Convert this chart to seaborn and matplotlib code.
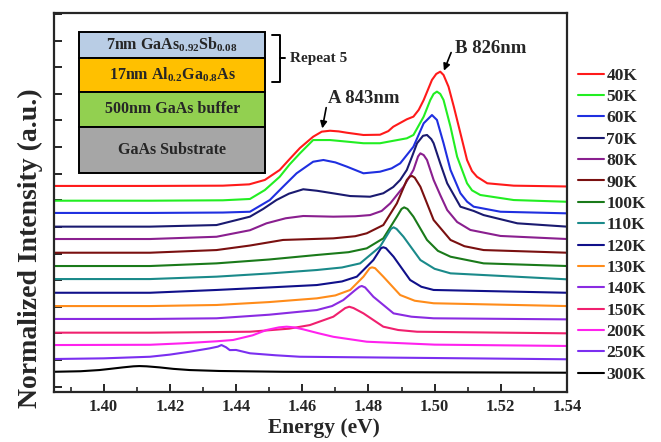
import matplotlib
matplotlib.use('Agg')
import matplotlib.pyplot as plt
import seaborn as sns
import pandas as pd
from matplotlib.patches import Rectangle
from matplotlib.lines import Line2D
from matplotlib.ticker import MultipleLocator, FormatStrFormatter

# temperatures and line colours, top trace first
temps = ['40K', '50K', '60K', '70K', '80K', '90K', '100K', '110K',
         '120K', '130K', '140K', '150K', '200K', '250K', '300K']
colors = ['#ff1a1a', '#22ee22', '#1f2fe0', '#1a1a70', '#8a1f8f', '#7a1010',
          '#1a7a1a', '#1a8a8a', '#10108a', '#ff8c1a', '#8a2be2', '#f0206e',
          '#ff22ee', '#7b2ff0', '#000000']

# stacked PL spectra (energy in eV, intensity in a.u.)
e_40K = [1.385, 1.414, 1.436, 1.444, 1.4487, 1.4532, 1.4562, 1.4593, 1.4633, 1.4659,
         1.4684, 1.471, 1.4735, 1.4785, 1.4835, 1.486, 1.4875, 1.4916, 1.4936, 1.4952,
         1.4967, 1.4992, 1.5005, 1.5017, 1.5027, 1.5042, 1.5058, 1.5078, 1.5098, 1.5113,
         1.5128, 1.5159, 1.5239, 1.54]
i_40K = [15.08, 15.08, 15.10, 15.2, 15.53, 16.28, 17.1, 17.93, 18.78, 19.16,
         19.23, 19.18, 19.08, 18.91, 18.93, 19.2, 19.53, 20.09, 20.29, 20.8,
         21.54, 23.05, 23.5, 23.67, 23.42, 22.54, 21.04, 19.04, 17.03, 16.2,
         15.77, 15.28, 15.10, 15.04]

e_50K = [1.385, 1.414, 1.436, 1.4442, 1.4487, 1.4532, 1.4562, 1.4593, 1.4633, 1.4684,
         1.4735, 1.4785, 1.4835, 1.4916, 1.4936, 1.4967, 1.4987, 1.4997, 1.5007, 1.5017,
         1.5027, 1.5048, 1.5068, 1.5098, 1.5113, 1.5138, 1.5239, 1.54]
i_50K = [13.97, 13.97, 14.0, 14.1, 14.77, 15.77, 16.7, 17.53, 18.53, 18.53,
         18.41, 18.29, 18.29, 18.66, 18.91, 20.29, 21.54, 22.0, 22.17, 22.0,
         21.54, 19.53, 17.28, 15.28, 14.75, 14.40, 14.02, 13.89]

e_60K = [1.385, 1.414, 1.436, 1.4442, 1.4502, 1.4542, 1.4583, 1.4633, 1.4664, 1.4700,
         1.4735, 1.4785, 1.4835, 1.4870, 1.4896, 1.4936, 1.4967, 1.4992, 1.5007, 1.5027,
         1.5048, 1.5078, 1.5098, 1.5118, 1.5199, 1.54]
i_60K = [13.05, 13.05, 13.08, 13.14, 14.02, 15.02, 16.03, 16.90, 17.03, 16.85,
         16.53, 16.03, 16.15, 16.4, 16.78, 18.03, 19.79, 20.41, 20.04, 18.29,
         16.28, 14.53, 13.9, 13.52, 13.14, 13.02]

e_70K = [1.385, 1.414, 1.4341, 1.4442, 1.4482, 1.4522, 1.456, 1.4603, 1.4644, 1.4700,
         1.4745, 1.4805, 1.4845, 1.4875, 1.4896, 1.4916, 1.4932, 1.4947, 1.4965, 1.4977,
         1.4990, 1.4997, 1.5017, 1.5038, 1.5078, 1.5118, 1.5148, 1.5250, 1.54]
i_70K = [12.02, 12.02, 12.14, 12.77, 13.35, 14.02, 14.5, 14.83, 14.72, 14.5,
         14.32, 14.27, 14.53, 15.0, 15.53, 16.28, 17.3, 18.29, 18.85, 18.91,
         18.6, 18.29, 16.78, 15.28, 13.52, 13.2, 12.89, 12.27, 12.02]

e_80K = [1.385, 1.414, 1.4341, 1.4442, 1.4492, 1.4550, 1.4603, 1.4694, 1.4760, 1.4805,
         1.4840, 1.4866, 1.4906, 1.4936, 1.4950, 1.4957, 1.4967, 1.4977, 1.4997, 1.5017,
         1.5038, 1.5068, 1.5108, 1.5199, 1.54]
i_80K = [11.09, 11.09, 11.26, 11.75, 12.27, 12.65, 12.82, 12.77, 12.80, 12.89,
         13.2, 13.77, 15.02, 16.28, 17.3, 17.53, 17.4, 17.03, 15.53, 14.40,
         13.27, 12.37, 11.77, 11.32, 11.09]

e_90K = [1.385, 1.414, 1.4341, 1.4442, 1.4542, 1.4694, 1.4760, 1.4795, 1.4845, 1.4886,
         1.4916, 1.4925, 1.4932, 1.4940, 1.4957, 1.4997, 1.5048, 1.5090, 1.5148, 1.54]
i_90K = [10.06, 10.06, 10.26, 10.6, 11.02, 11.14, 11.3, 11.52, 12.14, 13.77,
         15.53, 15.78, 15.83, 15.7, 15.02, 12.52, 11.02, 10.55, 10.26, 10.06]

e_100K = [1.385, 1.414, 1.4341, 1.4500, 1.4644, 1.4740, 1.4795, 1.4845, 1.4886, 1.4900,
          1.4908, 1.4918, 1.4936, 1.4977, 1.5010, 1.5048, 1.5148, 1.54]
i_100K = [9.06, 9.06, 9.26, 9.55, 9.89, 10.1, 10.39, 11.14, 12.77, 13.35,
          13.47, 13.35, 12.77, 11.02, 10.2, 9.76, 9.26, 9.06]

e_110K = [1.385, 1.414, 1.4341, 1.4500, 1.4644, 1.4720, 1.4775, 1.4835, 1.4868, 1.4876,
          1.4885, 1.4906, 1.4957, 1.5000, 1.5048, 1.54]
i_110K = [8.08, 8.08, 8.26, 8.5, 8.76, 8.95, 9.26, 10.51, 11.85, 11.97,
          11.85, 11.26, 9.51, 8.85, 8.51, 8.06]

e_120K = [1.385, 1.414, 1.4341, 1.4500, 1.4644, 1.4720, 1.4765, 1.4815, 1.4838, 1.4845,
          1.4853, 1.4876, 1.4926, 1.4960, 1.4997, 1.54]
i_120K = [7.05, 7.05, 7.26, 7.45, 7.63, 7.9, 8.26, 9.51, 10.4, 10.47,
          10.4, 9.76, 8.01, 7.5, 7.26, 7.05]

e_130K = [1.385, 1.414, 1.4341, 1.4500, 1.4644, 1.4700, 1.4745, 1.4785, 1.4804, 1.4811,
          1.4820, 1.4845, 1.4896, 1.4940, 1.4997, 1.54]
i_130K = [6.05, 6.05, 6.13, 6.35, 6.63, 6.85, 7.26, 8.26, 8.9, 8.96,
          8.9, 8.26, 6.88, 6.45, 6.26, 6.05]

e_140K = [1.385, 1.414, 1.4341, 1.4500, 1.4644, 1.4690, 1.4724, 1.4760, 1.4773, 1.4780,
          1.4790, 1.4815, 1.4876, 1.4930, 1.4997, 1.54]
i_140K = [5.08, 5.08, 5.13, 5.4, 5.75, 6.05, 6.50, 7.25, 7.5, 7.56,
          7.45, 6.75, 5.50, 5.25, 5.13, 5.05]

e_150K = [1.385, 1.414, 1.4442, 1.4560, 1.4623, 1.4694, 1.4730, 1.4742, 1.4755, 1.4785,
          1.4845, 1.4890, 1.4947, 1.54]
i_150K = [4.05, 4.05, 4.12, 4.35, 4.62, 5.25, 5.9, 6.00, 5.9, 5.50,
          4.50, 4.25, 4.12, 4.00]

e_200K = [1.385, 1.414, 1.4239, 1.4340, 1.4391, 1.4450, 1.4492, 1.4530, 1.4553, 1.4575,
          1.4603, 1.4650, 1.4694, 1.4795, 1.5000, 1.54]
i_200K = [3.12, 3.14, 3.25, 3.40, 3.50, 3.85, 4.25, 4.45, 4.50, 4.45,
          4.30, 4.0, 3.74, 3.37, 3.15, 3.05]

e_250K = [1.385, 1.400, 1.414, 1.4200, 1.4260, 1.4320, 1.4345, 1.4356, 1.4370, 1.4381,
          1.4400, 1.4442, 1.4520, 1.4593, 1.54]
i_250K = [2.07, 2.12, 2.24, 2.40, 2.62, 2.87, 3.0, 3.12, 2.95, 2.74,
          2.75, 2.50, 2.35, 2.24, 2.05]

e_300K = [1.385, 1.3930, 1.3987, 1.4020, 1.4058, 1.4090, 1.4108, 1.4130, 1.4169, 1.4210,
          1.4260, 1.4350, 1.4542, 1.54]
i_300K = [1.11, 1.15, 1.24, 1.33, 1.44, 1.52, 1.54, 1.52, 1.44, 1.33,
          1.24, 1.17, 1.11, 1.04]

energies = [e_40K, e_50K, e_60K, e_70K, e_80K, e_90K, e_100K, e_110K,
            e_120K, e_130K, e_140K, e_150K, e_200K, e_250K, e_300K]
intensities = [i_40K, i_50K, i_60K, i_70K, i_80K, i_90K, i_100K, i_110K,
               i_120K, i_130K, i_140K, i_150K, i_200K, i_250K, i_300K]

# sample structure (inset)
layers = [r'7nm GaAs$_{\mathbf{0.92}}$Sb$_{\mathbf{0.08}}$',
          r'17nm Al$_{\mathbf{0.2}}$Ga$_{\mathbf{0.8}}$As',
          '500nm GaAs buffer', 'GaAs Substrate']
layer_colors = ['#b9cde5', '#ffc000', '#92d050', '#a6a6a6']

sns.set_style('ticks')
plt.rcParams['font.family'] = ['Liberation Serif', 'DejaVu Serif']
plt.rcParams['font.weight'] = 'bold'
plt.rcParams['mathtext.fontset'] = 'custom'
plt.rcParams['mathtext.rm'] = 'Liberation Serif:bold'
plt.rcParams['mathtext.bf'] = 'Liberation Serif:bold'

fig = plt.figure(figsize=(6.61, 4.42), dpi=100)
ax = fig.add_axes([54 / 661, 1 - 392 / 442, 513 / 661, 379 / 442])

for t, c, e, i in zip(temps, colors, energies, intensities):
    df = pd.DataFrame({'Energy': e, 'Intensity': i})
    sns.lineplot(data=df, x='Energy', y='Intensity', color=c, lw=1.5,
                 label=t, ax=ax)

ax.set_xlim(1.385, 1.54)
ax.set_ylim(-0.41, 28.08)
ax.xaxis.set_major_locator(MultipleLocator(0.02))
ax.xaxis.set_minor_locator(MultipleLocator(0.01))
ax.xaxis.set_major_formatter(FormatStrFormatter('%.2f'))
ax.set_yticks(list(range(0, 29, 2)))
ax.set_yticklabels([])
ax.tick_params(which='major', direction='in', length=6, width=1.4,
               labelsize=12, pad=5, top=False, right=False)
ax.tick_params(which='minor', direction='in', length=3.5, width=1.2,
               top=False, right=False)
for s in ax.spines.values():
    s.set_linewidth(1.6)

ax.set_xlabel('Energy (eV)', fontsize=15.5, fontweight='bold')
ax.xaxis.set_label_coords(0.526, -0.0686)
ax.xaxis.label.set_va('top')
ax.set_ylabel('Normalized Intensity (a.u.)', fontsize=20, fontweight='bold')
ax.yaxis.set_label_coords(-0.022, 0.38)

ax.legend(loc='upper left', bbox_to_anchor=(1.021, 0.856), frameon=False,
          prop={'size': 12.5, 'weight': 'bold'}, handlelength=1.5,
          handletextpad=0.15, labelspacing=0.30, borderpad=0, borderaxespad=0)

# peak labels
ax.annotate('', xy=(1.4659, 19.2), xytext=(1.4674, 21.17),
            arrowprops=dict(arrowstyle='-|>', color='k', lw=1.2, mutation_scale=10))
ax.text(1.4678, 21.67, 'A 843nm', fontsize=13.5, fontweight='bold', va='center')
ax.annotate('', xy=(1.5025, 23.55), xytext=(1.5053, 25.30),
            arrowprops=dict(arrowstyle='-|>', color='k', lw=1.2, mutation_scale=10))
ax.text(1.5063, 25.43, 'B 826nm', fontsize=13.5, fontweight='bold', va='center')

# layer stack inset
tops = [0.9507, 0.8805, 0.7924, 0.6984]
bottoms = [0.8805, 0.7924, 0.6984, 0.5786]
for lab, col, tp, bt in zip(layers, layer_colors, tops, bottoms):
    ax.add_patch(Rectangle((0.0493, bt), 0.362, tp - bt, transform=ax.transAxes,
                           facecolor=col, edgecolor='black', lw=1.4, zorder=5))
    ax.text(0.2303, (tp + bt) / 2, lab, transform=ax.transAxes, ha='center',
            va='center', fontsize=11.5, fontweight='bold', zorder=6)

bx = [0.425, 0.4405, 0.4405, 0.425]
by = [0.942, 0.942, 0.8187, 0.8187]
ax.add_line(Line2D(bx, by, transform=ax.transAxes, color='k', lw=1.4))
ax.add_line(Line2D([0.4405, 0.4503], [0.880, 0.880], transform=ax.transAxes,
                   color='k', lw=1.4))
ax.text(0.46, 0.880, 'Repeat 5', transform=ax.transAxes, ha='left', va='center',
        fontsize=11, fontweight='bold')

fig.savefig('out.png', dpi=100)
